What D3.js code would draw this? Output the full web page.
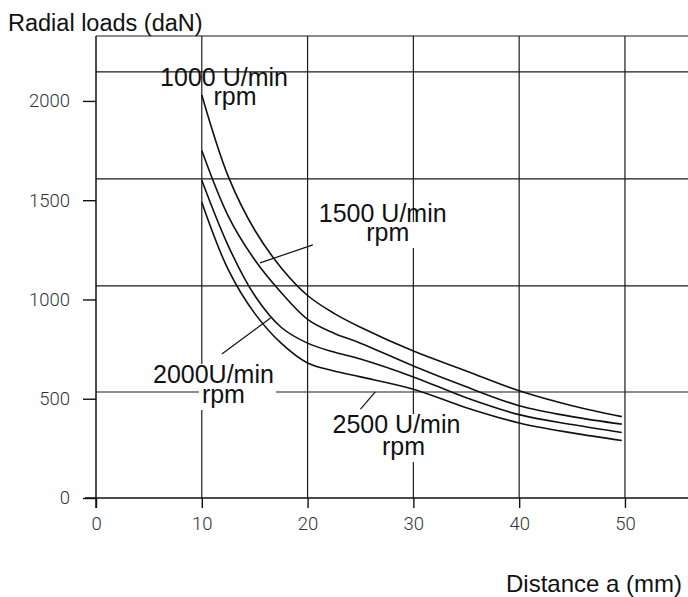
<!DOCTYPE html>
<html>
<head>
<meta charset="utf-8">
<script src="https://cdn.jsdelivr.net/npm/d3@7"></script>
<style>
  body { margin: 0; background: #fff; }
  svg { display: block; }
  .tick text { font-family: Roboto, "DejaVu Sans", sans-serif; font-weight: 300; fill: #333; }
  .lbl { font-family: "Liberation Sans", Arial, sans-serif; fill: #111; }
</style>
</head>
<body>
<svg></svg>
<script>

var screen = {width: 688, height: 597}
var margins = {top: 36, right: 0, bottom: 99, left: 96}

// distance a (mm) and radial load (daN)
var distances = [10, 12.5, 15, 17.5, 20, 22.5, 25, 30, 35, 40, 45, 49.7]
var load1000 = [2030, 1620, 1350, 1160, 1020, 930, 860, 740, 640, 540, 465, 410]
var load1500 = [1750, 1420, 1200, 1035, 900, 830, 780, 665, 560, 465, 410, 372]
var load2000 = [1600, 1270, 1020, 860, 780, 735, 700, 610, 505, 420, 370, 330]
var load2500 = [1490, 1150, 930, 780, 680, 640, 610, 548, 455, 378, 328, 290]

var xTicks = [0, 10, 20, 30, 40, 50]
var yTicks = [0, 500, 1000, 1500, 2000]
// horizontal grid of the drawing (does not line up with the printed ticks)
var gridY = [534, 1068, 1607, 2146, 2327]
var gridX = [10, 20, 30, 40, 50]

var speeds = ["1000 U/min", "1500 U/min", "2000U/min", "2500 U/min"]
var unitLine = "rpm"

var svg = d3.select("svg")
    .attr("width", screen.width)
    .attr("height", screen.height)

var width = screen.width - margins.left - margins.right
var height = screen.height - margins.top - margins.bottom

var xScale = d3.scaleLinear()
    .domain([0, 55.96])
    .range([margins.left, margins.left + width])

var yScale = d3.scaleLinear()
    .domain([0, 2327])
    .range([margins.top + height, margins.top])

// grid lines
var grid = svg.append("g")
    .attr("stroke", "#1a1a1a")
    .attr("stroke-width", 1.2)

grid.selectAll(".gh")
    .data(gridY)
    .enter()
    .append("line")
    .attr("x1", xScale(0))
    .attr("x2", screen.width)
    .attr("y1", function(d){return yScale(d)})
    .attr("y2", function(d){return yScale(d)})

grid.selectAll(".gv")
    .data(gridX)
    .enter()
    .append("line")
    .attr("x1", function(d){return xScale(d)})
    .attr("x2", function(d){return xScale(d)})
    .attr("y1", yScale(2327))
    .attr("y2", yScale(0))

// axes
var xAxis = d3.axisBottom(xScale)
    .tickValues(xTicks)
    .tickFormat(d3.format("d"))
    .tickSize(10)
    .tickPadding(9)

var yAxis = d3.axisLeft(yScale)
    .tickValues(yTicks)
    .tickFormat(d3.format("d"))
    .tickSize(13)
    .tickPadding(13)

svg.append("g")
    .attr("id", "xAxis")
    .attr("transform", "translate(0," + yScale(0) + ")")
    .call(xAxis)

svg.append("g")
    .attr("id", "yAxis")
    .attr("transform", "translate(" + xScale(0) + ",0)")
    .call(yAxis)

svg.selectAll(".domain").remove()
svg.selectAll(".tick line").attr("stroke", "#111").attr("stroke-width", 1.4)
svg.selectAll(".tick text").style("font-size", "18.5px")

svg.append("line")
    .attr("x1", xScale(0) - 11).attr("x2", screen.width)
    .attr("y1", yScale(0)).attr("y2", yScale(0))
    .attr("stroke", "#111").attr("stroke-width", 1.5)

svg.append("line")
    .attr("x1", xScale(0)).attr("x2", xScale(0))
    .attr("y1", yScale(2327)).attr("y2", yScale(0) + 10)
    .attr("stroke", "#111").attr("stroke-width", 1.5)

// labels for the curves
var labelSpots = [
    {x: 12.1, y: 2075, dx: 11, dy: 19, box1: false, box2: false},
    {x: 27.1, y: 1390, dx: 5, dy: 19, box1: false, box2: true},
    {x: 11.1, y: 579, dx: 10, dy: 20, box1: true, box2: true},
    {x: 28.4, y: 327, dx: 7, dy: 22, box1: true, box2: true}
]

var labels = svg.append("g")

labelSpots.forEach(function(s, i)
{
    var g = labels.append("g")
        .attr("transform", "translate(" + xScale(s.x) + "," + yScale(s.y) + ")")
    var t1 = g.append("text")
        .classed("lbl", true)
        .attr("text-anchor", "middle")
        .style("font-size", "25px")
        .text(speeds[i])
    var t2 = g.append("text")
        .classed("lbl", true)
        .attr("text-anchor", "middle")
        .attr("x", s.dx)
        .attr("y", s.dy)
        .style("font-size", "25px")
        .text(unitLine)
    var b1 = t1.node().getBBox()
    var b2 = t2.node().getBBox()
    if (s.box2) {
        g.insert("rect", "text")
            .attr("x", b2.x - 3)
            .attr("y", b2.y + 4)
            .attr("width", b1.x + b1.width - b2.x + 5)
            .attr("height", b2.height - 2)
            .attr("fill", "#fff")
    }
    if (s.box1) {
        g.insert("rect", "text")
            .attr("x", b1.x - 1)
            .attr("y", b1.y + 4)
            .attr("width", b1.width + 2)
            .attr("height", b1.height - 6)
            .attr("fill", "#fff")
    }
})

// leader lines
var leaders = [
    [[20.5, 1275], [15.5, 1184]],
    [[11.9, 725], [16.5, 907]],
    [[25.0, 448], [26.4, 534]]
]

svg.append("g")
    .selectAll("line")
    .data(leaders)
    .enter()
    .append("line")
    .attr("x1", function(d){return xScale(d[0][0])})
    .attr("y1", function(d){return yScale(d[0][1])})
    .attr("x2", function(d){return xScale(d[1][0])})
    .attr("y2", function(d){return yScale(d[1][1])})
    .attr("stroke", "#111")
    .attr("stroke-width", 1.2)

// curves
var drawline = function(loads)
{
    var lineGenerator = d3.line()
        .x(function(d, i){return xScale(distances[i])})
        .y(function(d){return yScale(d)})
        .curve(d3.curveCatmullRom.alpha(0.5))

    svg.append("path")
        .datum(loads)
        .attr("fill", "none")
        .attr("stroke", "#111")
        .attr("stroke-width", 1.6)
        .attr("d", lineGenerator)
}

drawline(load1000)
drawline(load1500)
drawline(load2000)
drawline(load2500)

// axis titles
svg.append("text")
    .classed("lbl", true)
    .attr("x", 8)
    .attr("y", 31)
    .style("font-size", "23.5px")
    .text("Radial loads (daN)")

svg.append("text")
    .classed("lbl", true)
    .attr("x", 682)
    .attr("y", 592)
    .attr("text-anchor", "end")
    .style("font-size", "24px")
    .text("Distance a (mm)")

</script>
</body>
</html>
